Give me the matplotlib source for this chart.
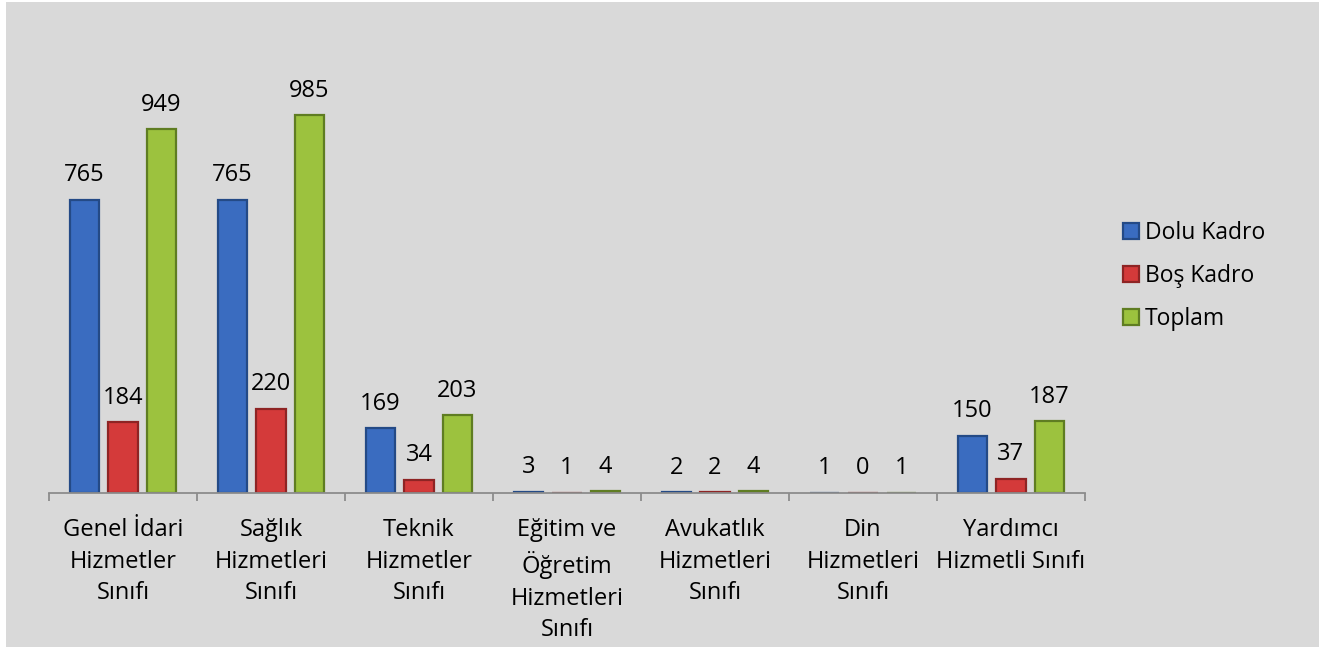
import numpy as np
import matplotlib
matplotlib.use('Agg')
import matplotlib.pyplot as plt
from matplotlib.patches import Rectangle

# ============== data ===================
categories = ['Genel İdari\nHizmetler\nSınıfı', 'Sağlık\nHizmetleri\nSınıfı',
              'Teknik\nHizmetler\nSınıfı', 'Eğitim ve\nÖğretim\nHizmetleri\nSınıfı',
              'Avukatlık\nHizmetleri\nSınıfı', 'Din\nHizmetleri\nSınıfı',
              'Yardımcı\nHizmetli Sınıfı']
dolu   = [765, 765, 169, 3, 2, 1, 150]
bos    = [184, 220, 34, 1, 2, 0, 37]
toplam = [949, 985, 203, 4, 4, 1, 187]

series_names = ['Dolu Kadro', 'Boş Kadro', 'Toplam']
colors  = ['#3a6cc0', '#d43a3a', '#9cc23e']
edges   = ['#244a86', '#8e2424', '#5f7d22']

# ============== plot ===================
plt.rcParams['font.family'] = ['Open Sans', 'DejaVu Sans']

fig = plt.figure(figsize=(13.19, 6.48), dpi=100, facecolor='white')
fig.patches.append(Rectangle((6/1319, 1/648), 1 - 6/1319, 1 - 3/648,
                             transform=fig.transFigure, facecolor='#d9d9d9',
                             edgecolor='none', zorder=-10))

ax = fig.add_axes([49/1319, 1 - 493/648, 1036/1319, 460/648])
ax.set_facecolor('none')

x = np.arange(len(categories))
width = 0.2
step = 0.26
all_series = [dolu, bos, toplam]
for i, (vals, name) in enumerate(zip(all_series, series_names)):
    bars = ax.bar(x + (i - 1) * step, vals, width, color=colors[i],
                  edgecolor=edges[i], linewidth=1.6, label=name)
    ax.bar_label(bars, padding=9, fontsize=17, color='black')

ax.set_xlim(-0.5, len(categories) - 0.5)
ax.set_ylim(0, 1200)
ax.set_yticks([])
for s in ['top', 'right', 'left']:
    ax.spines[s].set_visible(False)
ax.spines['bottom'].set_color('#8c8c8c')
ax.spines['bottom'].set_linewidth(1.3)

ax.set_xticks(np.arange(len(categories) + 1) - 0.5, minor=True)
ax.set_xticks(x)
ax.set_xticklabels(categories, fontsize=17, linespacing=1.42)
ax.tick_params(axis='x', which='major', length=0, pad=18)
ax.tick_params(axis='x', which='minor', length=6, width=1.3, color='#8c8c8c')

fig.legend(loc='center left', bbox_to_anchor=(0.836, 0.574), frameon=False,
           fontsize=16.5, handlelength=0.7, handleheight=0.7,
           handletextpad=0.25, labelspacing=0.82)

plt.savefig('out.png', dpi=100, facecolor=fig.get_facecolor())
